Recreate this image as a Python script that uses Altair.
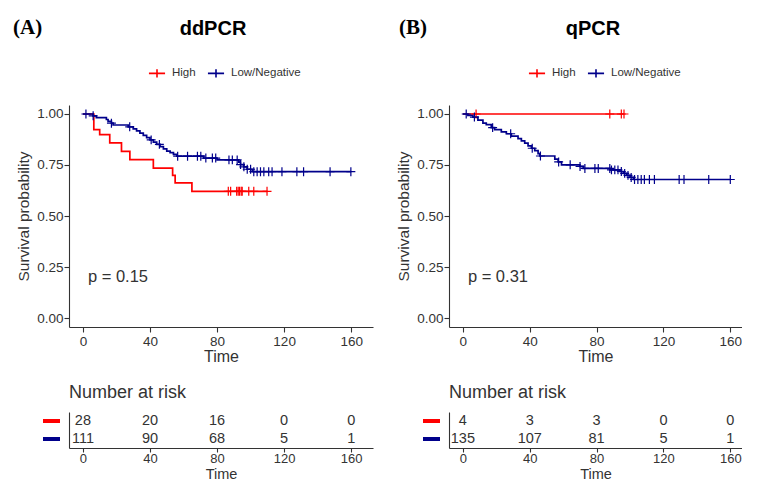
import altair as alt
import pandas as pd

FONT = "Liberation Sans"
INK = "#333333"

groups = ["High", "Low/Negative"]
group_colors = ["#FF0000", "#00008B"]
panel_tags = ["(A)", "(B)"]
panel_titles = ["ddPCR", "qPCR"]
p_labels = ["p = 0.15", "p = 0.31"]
x_ticks = [0, 40, 80, 120, 160]
y_ticks = [0.0, 0.25, 0.5, 0.75, 1.0]
risk_times = [0, 40, 80, 120, 160]

# ---- Panel A (ddPCR) ----
a_high_t = [0, 6.5, 10, 16, 23, 28, 42, 53.5, 55, 65, 110]
a_high_s = [1.0, 0.923, 0.899, 0.858, 0.817, 0.776, 0.735, 0.699, 0.662, 0.621, 0.621]
a_high_c = [86.7, 88.1, 91.7, 92.6, 93.4, 94.4, 95.0, 98.9, 101.9, 109.8]

a_low_t = [0, 6, 8, 14, 15, 17, 18, 27, 30, 32, 34, 36, 38, 40, 42, 44, 46, 48, 50, 52,
           54, 56, 72, 80, 93, 94, 96, 98, 101, 160]
a_low_s = [1.0, 0.991, 0.982, 0.973, 0.964, 0.955, 0.946, 0.937, 0.927, 0.917, 0.906,
           0.895, 0.884, 0.873, 0.862, 0.851, 0.840, 0.829, 0.818, 0.811, 0.802, 0.793,
           0.784, 0.775, 0.764, 0.752, 0.741, 0.729, 0.717, 0.717]
a_low_c = [1.8, 6.1, 17, 27.9, 40.7, 45.6, 56.5, 62.4, 68.3, 70.3, 73.3, 77.2, 79.2, 87.1,
           89.1, 92.0, 94.0, 96, 98, 100, 101.9, 103.9, 105.9, 107.9, 110.8, 112.8, 118.7,
           127.6, 131.6, 147.4, 159.8]

a_risk_high = [28, 20, 16, 0, 0]
a_risk_low = [111, 90, 68, 5, 1]

# ---- Panel B (qPCR) ----
b_high_t = [0, 96.4]
b_high_s = [1.0, 1.0]
b_high_c = [7.9, 87.9, 94.8, 96.4]

b_low_t = [0, 3, 6, 9, 12, 14, 17, 19, 23, 26, 29, 33, 35, 37, 39, 41, 43, 45, 46, 55,
           57, 59, 70, 72, 88, 94, 96, 98, 100, 102, 160]
b_low_s = [1.0, 0.993, 0.985, 0.970, 0.955, 0.948, 0.933, 0.923, 0.912, 0.903, 0.891,
           0.879, 0.868, 0.857, 0.844, 0.832, 0.820, 0.806, 0.794, 0.779, 0.765, 0.751,
           0.743, 0.733, 0.726, 0.718, 0.709, 0.699, 0.689, 0.679, 0.679]
b_low_c = [2, 6.9, 17.8, 28.6, 41.5, 46.4, 57.3, 64.2, 70.1, 73, 79, 81, 87.9, 88.9, 90.9,
           92.8, 94.8, 96.8, 98.8, 100.7, 102.7, 104.7, 106.7, 108.6, 111.6, 114.6, 129.4,
           132.3, 147.1, 160]

b_risk_high = [4, 3, 3, 0, 0]
b_risk_low = [135, 107, 81, 5, 1]

X0 = -8.3
XMAX = [173.0, 167.0]
PW = [304, 293]


def step_value(ts, ss, x):
    v = ss[0]
    for t, s in zip(ts, ss):
        if t <= x:
            v = s
    return v


def color_enc(with_legend):
    scale = alt.Scale(domain=groups, range=group_colors)
    if not with_legend:
        return alt.Color("group:N", scale=scale, legend=None)
    return alt.Color(
        "group:N", scale=scale,
        legend=alt.Legend(
            title=None, orient="none", direction="horizontal",
            legendX=79, legendY=-41,
            symbolType="M-1,0H1M0,-0.5V0.5", symbolSize=260, symbolStrokeWidth=1.6,
            labelFont=FONT, labelFontSize=11.5, labelColor=INK,
            columnPadding=8, labelOffset=6,
        ),
    )


def km_chart(i, hi_t, hi_s, hi_c, lo_t, lo_s, lo_c, tag_x):
    curves = pd.DataFrame({
        "time": hi_t + lo_t,
        "surv": hi_s + lo_s,
        "group": ["High"] * len(hi_t) + ["Low/Negative"] * len(lo_t),
    })
    cens = pd.DataFrame({
        "time": hi_c + lo_c,
        "surv": [step_value(hi_t, hi_s, c) for c in hi_c]
        + [step_value(lo_t, lo_s, c) for c in lo_c],
        "group": ["High"] * len(hi_c) + ["Low/Negative"] * len(lo_c),
    })
    xs = alt.Scale(domain=[X0, XMAX[i]], nice=False, zero=False)
    ys = alt.Scale(domain=[-0.044, 1.044], nice=False, zero=False)
    x_enc = alt.X("time:Q", scale=xs,
                  axis=alt.Axis(values=x_ticks, title="Time", labelFontSize=13.5,
                                titleFontSize=16, titlePadding=1))
    y_enc = alt.Y("surv:Q", scale=ys,
                  axis=alt.Axis(values=y_ticks, format=".2f", title="Survival probability",
                                labelFontSize=13.5, titleFontSize=15.5, titlePadding=5,
                                labelPadding=1))
    col = color_enc(True)
    lines = alt.Chart(curves).mark_line(interpolate="step-after", strokeWidth=1.7).encode(
        x=x_enc, y=y_enc, color=col)
    ticks = alt.Chart(cens).mark_point(
        shape="M0,-1V1M-1,0H1", filled=False, size=80, strokeWidth=1.2, opacity=1
    ).encode(x="time:Q", y="surv:Q", color=col)
    ptxt = alt.Chart(pd.DataFrame({"time": [3], "surv": [0.2], "label": [p_labels[i]]})).mark_text(
        align="left", baseline="middle", font=FONT, fontSize=16.5, color=INK
    ).encode(x="time:Q", y="surv:Q", text="label:N")
    title = alt.Chart(pd.DataFrame({"label": [panel_titles[i]]})).mark_text(
        align="center", baseline="middle", font=FONT, fontSize=20, fontWeight="bold",
        color="black"
    ).encode(x=alt.value(144), y=alt.value(-76), text="label:N")
    tag = alt.Chart(pd.DataFrame({"label": [panel_tags[i]]})).mark_text(
        align="left", baseline="middle", font="Liberation Serif", fontSize=21,
        fontWeight="bold", color="black"
    ).encode(x=alt.value(tag_x), y=alt.value(-77), text="label:N")
    return alt.layer(lines, ticks, ptxt, title, tag).properties(width=PW[i], height=222)


def risk_chart(i, hi_n, lo_n):
    df = pd.DataFrame({
        "time": risk_times * 2,
        "group": ["High"] * len(risk_times) + ["Low/Negative"] * len(risk_times),
        "n": hi_n + lo_n,
    })
    xs = alt.Scale(domain=[X0, XMAX[i]], nice=False, zero=False)
    ys = alt.Scale(type="point", domain=groups, padding=0.5)
    y_enc = alt.Y("group:N", scale=ys, axis=alt.Axis(labels=False, ticks=False, title=None))
    nums = alt.Chart(df).mark_text(font=FONT, fontSize=14.5, color=INK, baseline="middle").encode(
        x=alt.X("time:Q", scale=xs,
                axis=alt.Axis(values=risk_times, title="Time", labelFontSize=13,
                              titleFontSize=14.5, titlePadding=2, labelPadding=0, tickSize=4)),
        y=y_enc, text="n:Q")
    keys = alt.Chart(pd.DataFrame({"group": groups})).mark_rule(strokeWidth=4).encode(
        x=alt.value(-26), x2=alt.value(-9), y=y_enc, color=color_enc(False))
    return alt.layer(nums, keys).properties(
        width=PW[i], height=36,
        title=alt.TitleParams("Number at risk", anchor="start", frame="group", font=FONT,
                              fontSize=18, fontWeight="normal", color=INK, offset=10))


km_a = km_chart(0, a_high_t, a_high_s, a_high_c, a_low_t, a_low_s, a_low_c, -56)
km_b = km_chart(1, b_high_t, b_high_s, b_high_c, b_low_t, b_low_s, b_low_c, -50)
rk_a = risk_chart(0, a_risk_high, a_risk_low)
rk_b = risk_chart(1, b_risk_high, b_risk_low)

left = alt.vconcat(km_a, rk_a, spacing=19).resolve_scale(color="independent").resolve_legend(color="independent")
right = alt.vconcat(km_b, rk_b, spacing=19).resolve_scale(color="independent").resolve_legend(color="independent")

chart = (
    alt.hconcat(left, right, spacing=23)
    .resolve_scale(color="independent")
    .resolve_legend(color="independent")
    .properties(padding={"left": 5, "top": 9, "right": 0, "bottom": 0})
    .configure_view(stroke=None)
    .configure_axis(grid=False, domainColor="#333333", domainWidth=1.1, tickColor="#333333",
                    tickWidth=1.1, tickSize=5, labelColor=INK, titleColor=INK,
                    labelFont=FONT, titleFont=FONT, titleFontWeight="normal")
)

chart.save("out.html", embed_options={"renderer": "svg", "actions": False})
